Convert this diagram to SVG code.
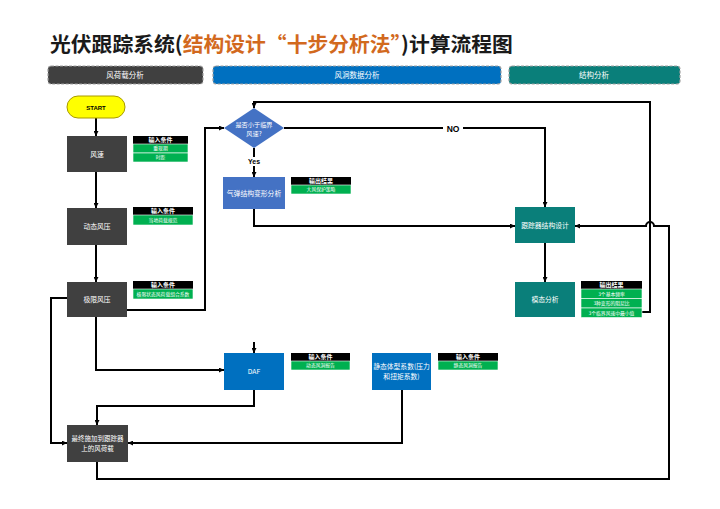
<svg xmlns="http://www.w3.org/2000/svg" width="720" height="509" viewBox="0 0 720 509">
<defs>
<marker id="ah" viewBox="0 0 10 10" refX="10" refY="5" markerWidth="5" markerHeight="5" orient="auto" markerUnits="userSpaceOnUse">
<path d="M0,0 L10,5 L0,10 z" fill="#000"/>
</marker>
<style>
.t{font-family:"Noto Sans CJK SC","Liberation Sans",sans-serif;fill:#fff;text-anchor:middle}
.lbl{font-size:6.8px}
.hd{font-size:6px;font-weight:bold}
.gr{font-size:4.8px}
.dark{fill:#404040}
.teal{fill:#0A7F7A}
.blue{fill:#0070C0}
.steel{fill:#4472C4}
.th{fill:#000}
.tg{fill:#00B050;stroke:#fff;stroke-width:0.6}
.c{fill:none;stroke:#000;stroke-width:2}
.bar{stroke:#A0A0A0;stroke-width:1.2;stroke-dasharray:3 1.5}
</style>
</defs>
<rect width="720" height="509" fill="#fff"/>
<text x="50" y="52" font-family="'Noto Sans CJK SC','Liberation Sans',sans-serif" font-size="20.8" font-weight="bold" fill="#1a1a1a">光伏跟踪系统(<tspan fill="#D2691E">结构设计“十步分析法”</tspan>)计算流程图</text>

<g id="header-wind-load">
<rect class="bar" x="48" y="66" width="155" height="18" rx="3" fill="#404040"/>
<text class="t" x="125" y="78" font-size="7.5">风荷载分析</text>
</g>
<g id="header-wind-tunnel">
<rect class="bar" x="213" y="66" width="288" height="18" rx="3" fill="#0070C0"/>
<text class="t" x="357" y="78" font-size="7.5">风洞数据分析</text>
</g>
<g id="header-structure">
<rect class="bar" x="509" y="66" width="171" height="18" rx="3" fill="#0A7F7A"/>
<text class="t" x="594" y="78" font-size="7.5">结构分析</text>
</g>

<g id="connectors">
<path class="c" d="M96,118 V136" marker-end="url(#ah)"/>
<path class="c" d="M96,172 V208" marker-end="url(#ah)"/>
<path class="c" d="M96,245 V282" marker-end="url(#ah)"/>
<path class="c" d="M127,310 H205 V128 H224" marker-end="url(#ah)"/>
<path class="c" d="M67,298 H51 V443 H67" marker-end="url(#ah)"/>
<path class="c" d="M96,317 V370 H224" marker-end="url(#ah)"/>
<path class="c" d="M284,128 H545 V207" marker-end="url(#ah)"/>
<path class="c" d="M254,148 V177" marker-end="url(#ah)"/>
<path class="c" d="M254,209 V226 H515" marker-end="url(#ah)"/>
<path class="c" d="M545,243 V282" marker-end="url(#ah)"/>
<path class="c" d="M642,312 H650 V102 H254 V108" marker-end="url(#ah)"/>
<path class="c" d="M97,462 V479 H669 V226 H654 A4,4 0 0 0 646,226 H575" marker-end="url(#ah)"/>
<path class="c" d="M254,390 V406 H97 V425" marker-end="url(#ah)"/>
<path class="c" d="M402,390 V443 H128" marker-end="url(#ah)"/>
<path class="c" d="M254,342 V353" marker-end="url(#ah)"/>
<rect x="443" y="123" width="20" height="10" fill="#fff"/>
<text x="453" y="131.5" font-family="'Liberation Sans',sans-serif" font-size="8.5" font-weight="bold" text-anchor="middle">NO</text>
<rect x="246" y="157" width="16" height="9" fill="#fff"/>
<text x="254" y="164" font-family="'Liberation Sans',sans-serif" font-size="7" font-weight="bold" text-anchor="middle">Yes</text>
</g>

<g id="start">
<rect x="67" y="96" width="58" height="22" rx="11" fill="#FFFF00" stroke="#A89A00" stroke-width="1"/>
<text x="96" y="109.5" font-family="'Liberation Sans',sans-serif" font-size="6" font-weight="bold" text-anchor="middle">START</text>
</g>

<g id="wind-speed">
<rect class="dark" x="67" y="136" width="60" height="36"/>
<text class="t lbl" x="97" y="156.5">风速</text>
</g>
<g id="wind-speed-input">
<rect class="th" x="133" y="136" width="55" height="8"/>
<text class="t hd" x="160.5" y="142.3">输入条件</text>
<rect class="tg" x="133" y="144" width="55" height="9"/>
<text class="t gr" x="160.5" y="150.3">重现期</text>
<rect class="tg" x="133" y="153" width="55" height="9"/>
<text class="t gr" x="160.5" y="159.3">时距</text>
</g>

<g id="dynamic-pressure">
<rect class="dark" x="67" y="208" width="60" height="37"/>
<text class="t lbl" x="97" y="229">动态风压</text>
</g>
<g id="dynamic-pressure-input">
<rect class="th" x="133" y="207" width="60" height="8"/>
<text class="t hd" x="163" y="213.3">输入条件</text>
<rect class="tg" x="133" y="215" width="60" height="10"/>
<text class="t gr" x="163" y="221.8">当地荷载规范</text>
</g>

<g id="limit-pressure">
<rect class="dark" x="67" y="282" width="60" height="35"/>
<text class="t lbl" x="97" y="302">极限风压</text>
</g>
<g id="limit-pressure-input">
<rect class="th" x="133" y="281" width="60" height="8"/>
<text class="t hd" x="163" y="287.3">输入条件</text>
<rect class="tg" x="133" y="289" width="60" height="10"/>
<text class="t gr" x="163" y="295.8">极限状态风荷载组合系数</text>
</g>

<g id="decision">
<path d="M254,108 L284,128 L254,148 L224,128 z" class="steel"/>
<text class="t" x="254" y="127" font-size="6.2">是否小于临界</text>
<text class="t" x="254" y="136" font-size="6.2">风速?</text>
</g>

<g id="aeroelastic">
<rect class="steel" x="223" y="177" width="62" height="32"/>
<text class="t lbl" x="254" y="195.5">气弹结构变形分析</text>
</g>
<g id="aeroelastic-output">
<rect class="th" x="291" y="177" width="60" height="8"/>
<text class="t hd" x="321" y="183.3">输出结果</text>
<rect class="tg" x="291" y="185" width="60" height="9"/>
<text class="t gr" x="321" y="191.3">大风保护策略</text>
</g>

<g id="tracker-design">
<rect class="teal" x="515" y="207" width="60" height="36"/>
<text class="t lbl" x="545" y="227.5">跟踪器结构设计</text>
</g>

<g id="modal">
<rect class="teal" x="515" y="282" width="60" height="35"/>
<text class="t lbl" x="545" y="302">模态分析</text>
</g>
<g id="modal-output">
<rect class="th" x="581" y="281" width="61" height="8"/>
<text class="t hd" x="611.5" y="287.3">输出结果</text>
<rect class="tg" x="581" y="289" width="61" height="9.5"/>
<text class="t gr" x="611.5" y="295.5">3个基本频率</text>
<rect class="tg" x="581" y="298.5" width="61" height="9.5"/>
<text class="t gr" x="611.5" y="305">3种变形的阻尼比</text>
<rect class="tg" x="581" y="308" width="61" height="9.5"/>
<text class="t gr" x="611.5" y="314.5">3个临界风速中最小值</text>
</g>

<g id="daf">
<rect class="blue" x="224" y="353" width="60" height="37"/>
<text class="t lbl" x="254" y="373.5">DAF</text>
</g>
<g id="daf-input">
<rect class="th" x="291" y="353" width="59" height="8"/>
<text class="t hd" x="320.5" y="359.3">输入条件</text>
<rect class="tg" x="291" y="361" width="59" height="9"/>
<text class="t gr" x="320.5" y="367.3">动态风洞报告</text>
</g>

<g id="static-coef">
<rect class="blue" x="372" y="353" width="59" height="37"/>
<text class="t lbl" x="401.5" y="369">静态体型系数(压力</text>
<text class="t lbl" x="401.5" y="379">和扭矩系数)</text>
</g>
<g id="static-coef-input">
<rect class="th" x="438" y="353" width="60" height="8"/>
<text class="t hd" x="468" y="359.3">输入条件</text>
<rect class="tg" x="438" y="361" width="60" height="9"/>
<text class="t gr" x="468" y="367.3">静态风洞报告</text>
</g>

<g id="final-load">
<rect class="dark" x="67" y="425" width="61" height="37"/>
<text class="t" x="97.5" y="441" font-size="6.5">最终施加到跟踪器</text>
<text class="t" x="97.5" y="451" font-size="6.5">上的风荷载</text>
</g>
</svg>
